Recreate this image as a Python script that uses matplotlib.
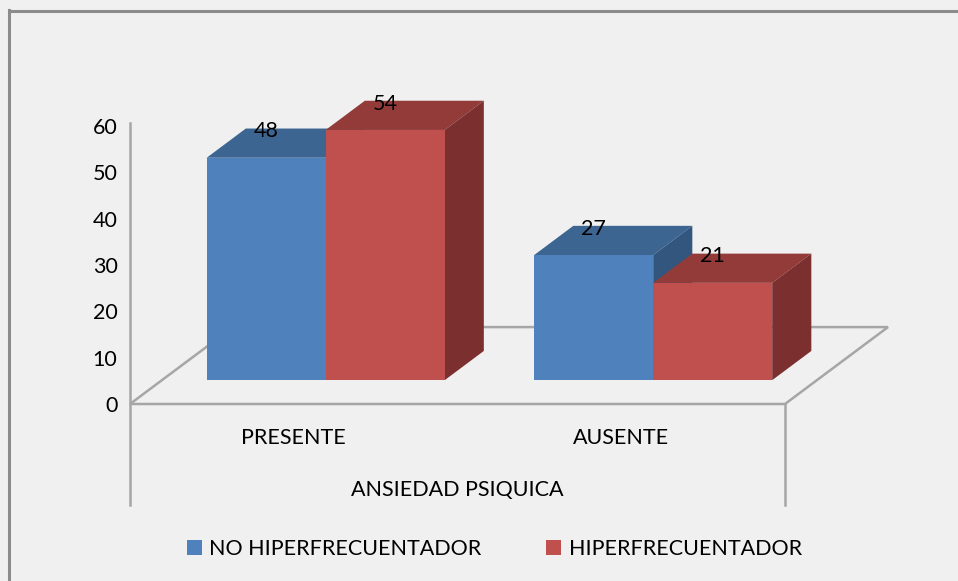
import matplotlib.pyplot as plt
from matplotlib.patches import Polygon, Patch

plt.rcParams['font.family'] = ['Lato', 'DejaVu Sans']

categories = ['PRESENTE', 'AUSENTE']
series = ['NO HIPERFRECUENTADOR', 'HIPERFRECUENTADOR']
values = [[48, 27],   # NO HIPERFRECUENTADOR
          [54, 21]]   # HIPERFRECUENTADOR
yticks = [0, 10, 20, 30, 40, 50, 60]
axis_title = 'ANSIEDAD PSIQUICA'

front_col = ['#4f81bd', '#c0504d']
top_col = ['#3d6591', '#923b39']
side_col = ['#33567f', '#7b2f2e']
bg = '#f0f0f0'
grid_col = '#a6a6a6'
FS = 15.5

# oblique depth of the floor (data units) and depth slot of the bars
DX, DY = 0.3145, 16.6
D0, D1 = 0.31, 0.69
BW = 0.3634


def proj(x, v, d):
    return (x + d * DX, v + d * DY)


fig = plt.figure(figsize=(9.58, 5.81), dpi=100)
fig.patch.set_facecolor(bg)
ax = fig.add_axes([130 / 958, 177 / 581, 655 / 958, 278 / 581])
ax.set_xlim(0, len(categories))
ax.set_ylim(0, 60)
ax.set_facecolor('none')
for s in ax.spines.values():
    s.set_visible(False)

# outer chart border (top and left only visible)
fig.add_artist(plt.Line2D([8.5 / 958, 8.5 / 958], [0, 1 - 10 / 581], color='#8c8c8c', lw=2.2))
fig.add_artist(plt.Line2D([8.5 / 958, 1], [1 - 10.5 / 581, 1 - 10.5 / 581], color='#8c8c8c', lw=2.2))

# floor
n = len(categories)
floor = [proj(0, 0, 0), proj(n, 0, 0), proj(n, 0, 1), proj(0, 0, 1)]
ax.add_patch(Polygon(floor, closed=True, facecolor=bg, edgecolor=grid_col, lw=1.8, clip_on=False, zorder=1))

# value axis line and category box
ax.plot([0, 0], [-21.8, 60.6], color=grid_col, lw=1.8, clip_on=False, zorder=1)
ax.plot([n, n], [-21.8, 0], color=grid_col, lw=1.8, clip_on=False, zorder=1)

# bars
for i in range(n):
    for j in range(len(series)):
        v = values[j][i]
        xl = i + 0.5 - BW + j * BW
        xr = xl + BW
        top = [proj(xl, v, D0), proj(xr, v, D0), proj(xr, v, D1), proj(xl, v, D1)]
        side = [proj(xr, 0, D0), proj(xr, v, D0), proj(xr, v, D1), proj(xr, 0, D1)]
        front = [proj(xl, 0, D0), proj(xr, 0, D0), proj(xr, v, D0), proj(xl, v, D0)]
        z = 2 + i * 2 + j
        ax.add_patch(Polygon(top, closed=True, facecolor=top_col[j], edgecolor='none', clip_on=False, zorder=z))
        ax.add_patch(Polygon(side, closed=True, facecolor=side_col[j], edgecolor='none', clip_on=False, zorder=z))
        ax.add_patch(Polygon(front, closed=True, facecolor=front_col[j], edgecolor='none', clip_on=False, zorder=z))
        cx, cy = proj((xl + xr) / 2, v, D0)
        ax.annotate(str(v), (cx, cy), xytext=(0, 19), textcoords='offset points',
                    ha='center', va='center', fontsize=FS, zorder=10, annotation_clip=False)

# value ticks
ax.set_yticks(yticks)
ax.set_yticklabels([str(t) for t in yticks], fontsize=FS)
ax.tick_params(axis='y', length=0, pad=9)
ax.set_xticks([])

# category labels and axis title
for i, c in enumerate(categories):
    ax.text(i + 0.5, -7.3, c, ha='center', va='center', fontsize=FS)
ax.text(n / 2, -18.6, axis_title, ha='center', va='center', fontsize=FS)

handles = [Patch(facecolor=front_col[j], edgecolor='none', label=series[j]) for j in range(len(series))]
fig.legend(handles=handles, loc='center', bbox_to_anchor=(0.516, 32 / 581), ncol=2, frameon=False,
           fontsize=FS, handlelength=0.7, handleheight=0.7, handletextpad=0.35, columnspacing=3.0)

fig.savefig('out.png', dpi=100, facecolor=bg)
